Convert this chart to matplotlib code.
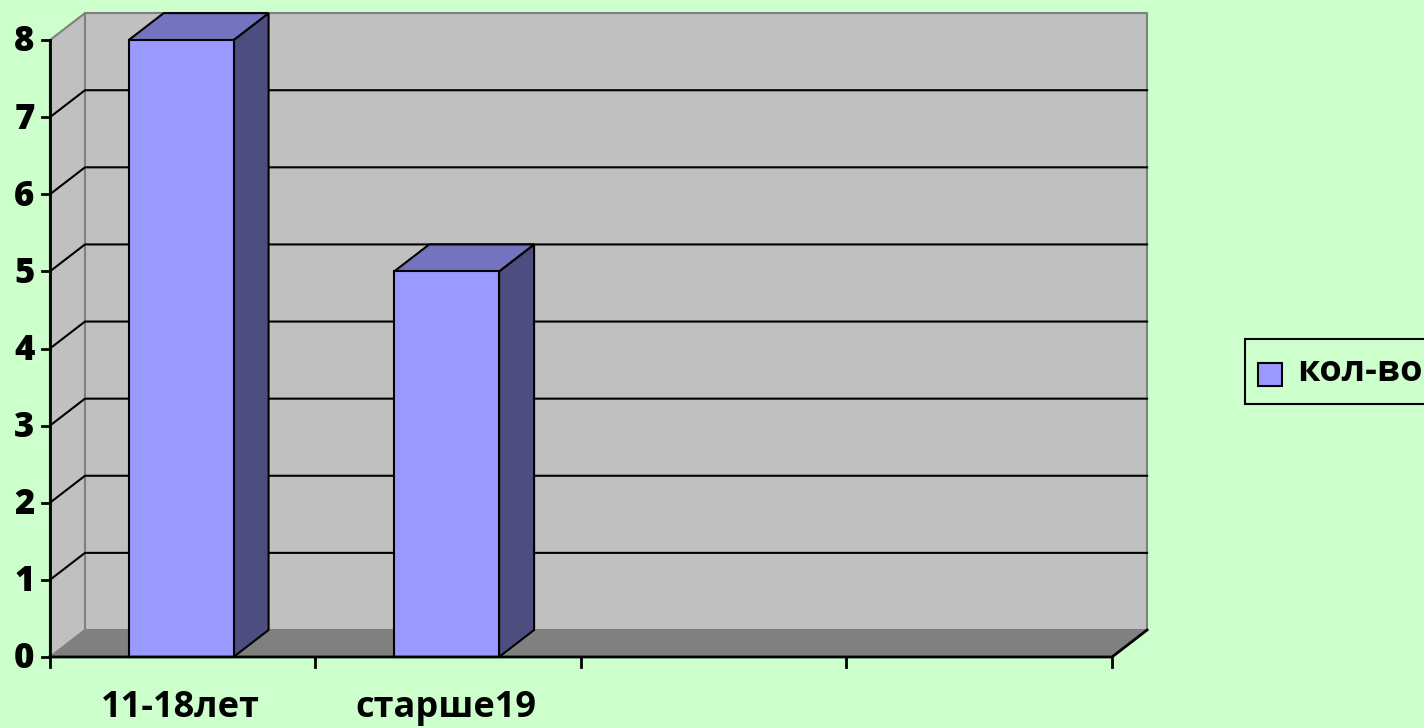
import matplotlib
matplotlib.use("Agg")
import matplotlib.pyplot as plt
from matplotlib.patches import Polygon, Rectangle

# data
categories = ["11-18лет", "старше19", "", ""]
values = [8, 5, None, None]
series_name = "кол-во"
y_ticks = [0, 1, 2, 3, 4, 5, 6, 7, 8]

bg = "#CCFFCC"
wall = "#C0C0C0"
floor = "#808080"
bar_front = "#9999FF"
bar_top = "#7373BF"
bar_side = "#4D4D80"

# depth offset of the pseudo-3d box, in data units
dx, dy = 0.132, 0.35
n = len(categories)
ymax = 8
bw = 0.395

plt.rcParams['font.family'] = ['Open Sans', 'DejaVu Sans']
fig = plt.figure(figsize=(14.24, 7.28), dpi=100, facecolor=bg)
ax = fig.add_axes([0, 0, 1, 1])
ax.set_xlim(-0.188, 5.175)
ax.set_ylim(-0.921, 8.52)
ax.axis('off')


def poly(pts, fc, ec, lw=1.5, z=1):
    ax.add_patch(Polygon(pts, closed=True, facecolor=fc, edgecolor=ec,
                         linewidth=lw, zorder=z, joinstyle='miter'))


# back wall, left wall, floor
poly([(dx, dy), (n + dx, dy), (n + dx, ymax + dy), (dx, ymax + dy)], wall, "#808080", 1.5, 1)
poly([(0, 0), (dx, dy), (dx, ymax + dy), (0, ymax)], wall, "#808080", 1.5, 1)
poly([(0, 0), (n, 0), (n + dx, dy), (dx, dy)], floor, "none", 0, 2)

# gridlines
for v in y_ticks[1:-1]:
    ax.plot([0, dx, n + dx], [v, v + dy, v + dy], color="black", lw=1.5, zorder=3)

# bars
for i, v in enumerate(values):
    if v is None:
        continue
    l = i + 0.494 - bw / 2
    r = i + 0.494 + bw / 2
    poly([(r, 0), (r + dx, dy), (r + dx, v + dy), (r, v)], bar_side, "black", 1.5, 5)
    poly([(l, v), (r, v), (r + dx, v + dy), (l + dx, v + dy)], bar_top, "black", 1.5, 5)
    poly([(l, 0), (r, 0), (r, v), (l, v)], bar_front, "black", 1.5, 6)

# axes lines and ticks
ax.plot([0, 0], [0, ymax], color="black", lw=2, zorder=7)
ax.plot([0, n, n + dx], [0, 0, dy], color="black", lw=2, zorder=7)
for v in y_ticks:
    ax.plot([-0.03, 0], [v, v], color="black", lw=2, zorder=7)
    ax.text(-0.058, v - 0.03, str(v), ha='right', va='center', fontsize=25,
            fontweight='heavy', zorder=8)
for i in range(n + 1):
    ax.plot([i, i], [0, -0.13], color="black", lw=2, zorder=7)
for i, c in enumerate(categories):
    ax.text(i + 0.49, -0.66, c, ha='center', va='center', fontsize=26,
            fontweight='bold', zorder=8)


# legend box (runs past the right edge, as in the original)
def fx(p):
    return p / 1424


def fy(p):
    return 1 - p / 728


fig.patches.append(Rectangle((fx(1245), fy(404)), fx(260), 65 / 728, transform=fig.transFigure,
                             facecolor=bg, edgecolor="black", linewidth=1.5, zorder=10))
fig.patches.append(Rectangle((fx(1258), fy(386)), fx(24), 23 / 728, transform=fig.transFigure,
                             facecolor=bar_front, edgecolor="black", linewidth=1.5, zorder=11))
fig.text(fx(1297), fy(372), series_name, ha='left', va='center', fontsize=26,
         fontweight='bold', zorder=12)

fig.savefig("out.png", dpi=100, facecolor=bg)
